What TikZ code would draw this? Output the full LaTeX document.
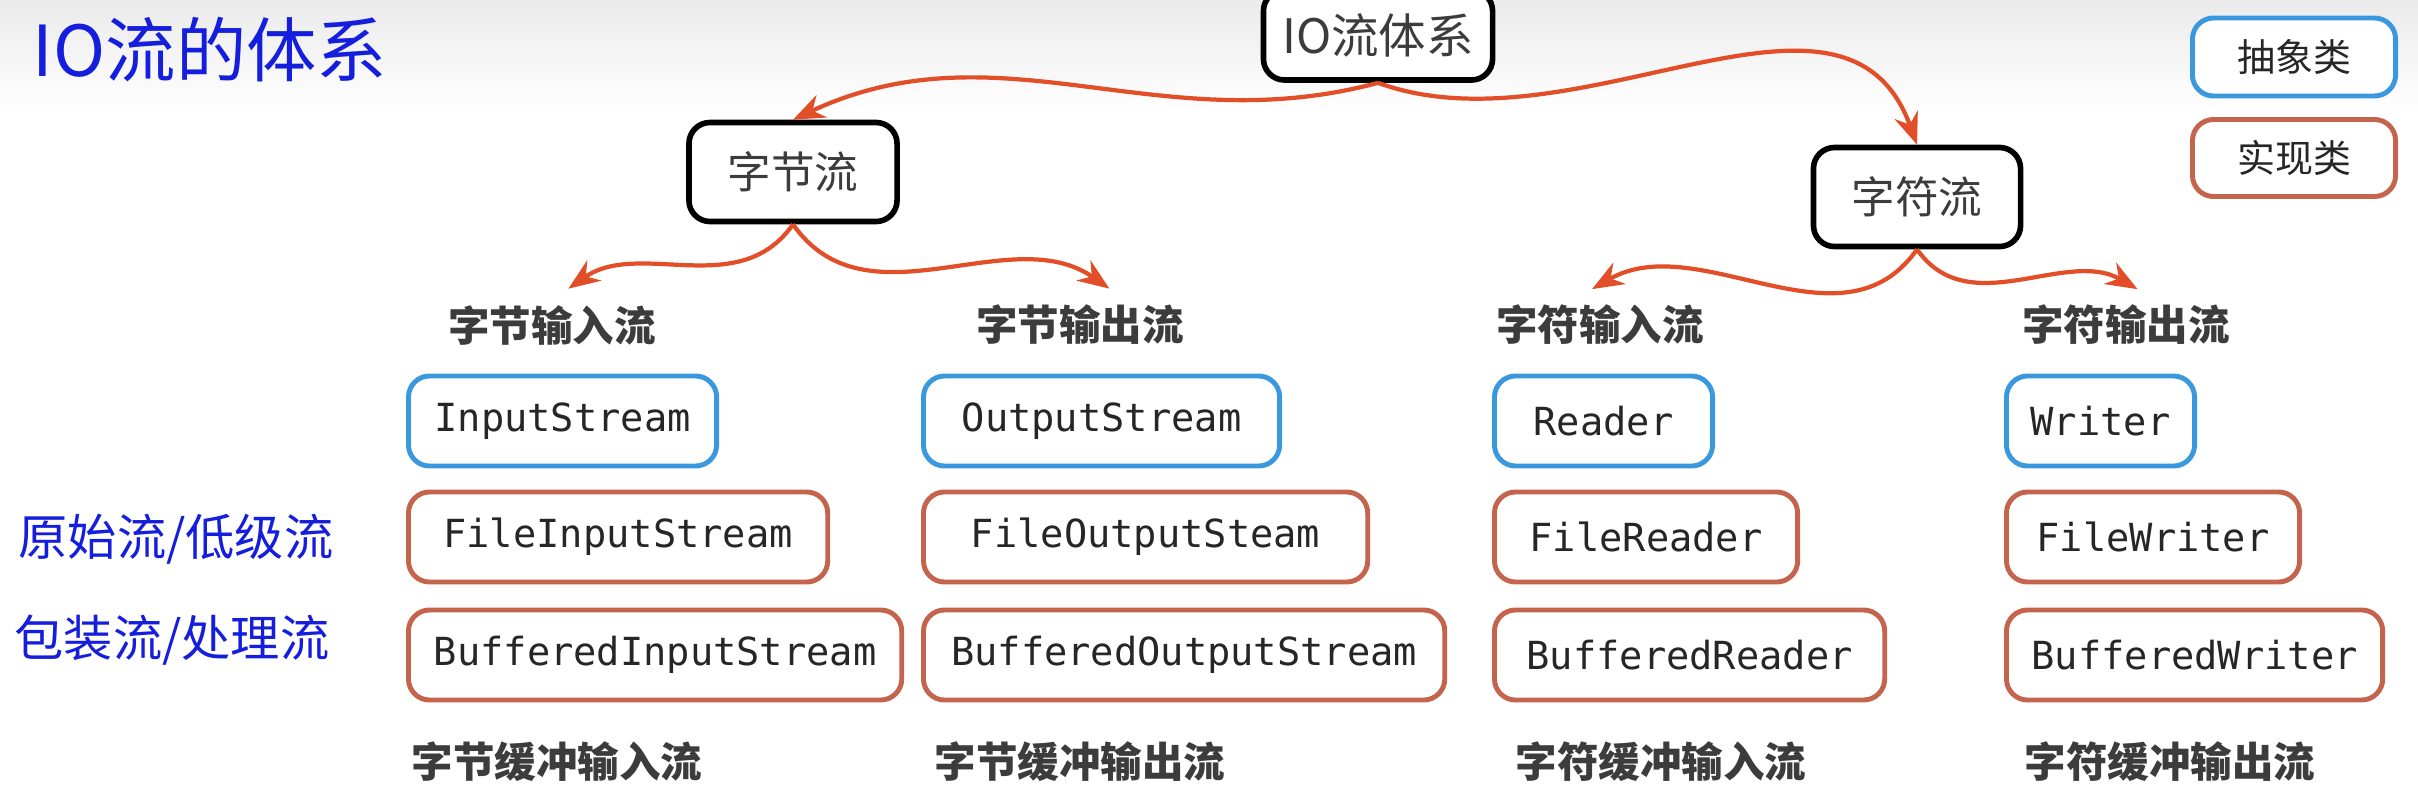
\documentclass[tikz,border=0pt]{standalone}
\usepackage{fontspec}
\setmainfont{Noto Sans CJK SC}
\setmonofont{DejaVu Sans Mono}
\usetikzlibrary{arrows.meta,positioning}
\definecolor{absblue}{RGB}{58,152,222}
\definecolor{implred}{RGB}{196,100,76}
\definecolor{arrred}{RGB}{226,78,40}
\definecolor{txtgray}{RGB}{60,60,60}
\definecolor{handblue}{RGB}{20,30,220}

\begin{document}
\begin{tikzpicture}[x=0.01cm,y=0.01cm,
    rootbox/.style={draw=black,line width=1.6pt,rounded corners=6pt,fill=white,
      font=\fontsize{12.4}{15}\selectfont,text=txtgray},
    absbox/.style={draw=absblue,line width=1.4pt,rounded corners=6pt,fill=white,
      minimum height=0.9cm,font=\ttfamily\fontsize{11}{13}\selectfont,text=black!85},
    implbox/.style={absbox,draw=implred},
    hdr/.style={font=\bfseries\fontsize{11.8}{14}\selectfont,text=txtgray},
    hand/.style={font=\fontsize{14}{17}\selectfont,text=handblue},
    arr/.style={-{Stealth[length=9pt,width=7pt]},draw=arrred,line width=1.2pt}]

    \useasboundingbox (0,0) rectangle (2418,802);
    \shade[top color=black!8,bottom color=white] (0,690) rectangle (2418,802);

    % titel en legenda
    \node[hand,font=\fontsize{20}{24}\selectfont] (title) at (210,752) {IO流的体系};
    \node[absbox,font=\fontsize{10.8}{13}\selectfont,minimum width=2.03cm,minimum height=0.78cm] (lgabs) at (2294,745) {抽象类};
    \node[implbox,font=\fontsize{10.8}{13}\selectfont,minimum width=2.03cm,minimum height=0.77cm] (lgimpl) at (2294,644) {实现类};

    % boom
    \node[rootbox,font=\fontsize{13.5}{16}\selectfont,minimum width=2.29cm,minimum height=0.9cm] (io) at (1378,767) {IO流体系};
    \node[rootbox,minimum width=2.08cm,minimum height=0.99cm] (zj) at (793,630) {字节流};
    \node[rootbox,minimum width=2.07cm,minimum height=0.99cm] (zf) at (1917,605) {字符流};

    \node[hdr] (h1) at (552,477) {字节输入流};
    \node[hdr] (h2) at (1080,477) {字节输出流};
    \node[hdr] (h3) at (1600,477) {字符输入流};
    \node[hdr] (h4) at (2126,477) {字符输出流};
    \coordinate (t1) at ([xshift=3]h1.north);
    \coordinate (t2) at ([xshift=10]h2.north);
    \coordinate (t3) at ([xshift=-4]h3.north);
    \coordinate (t4) at ([xshift=5]h4.north);

    \draw[arr] (io.south) to[out=195,in=25] (zj.north);
    \draw[arr] (io.south) to[out=-20,in=110] (zf.north);
    \draw[arr,shorten >=2pt] (zj.south) to[out=235,in=35] (t1);
    \draw[arr,shorten >=2pt] (zj.south) to[out=-55,in=145] (t2);
    \draw[arr,shorten >=2pt] (zf.south) to[out=235,in=30] (t3);
    \draw[arr,shorten >=2pt] (zf.south) to[out=-55,in=150] (t4);

    % abstracte klassen
    \node[absbox,anchor=west,minimum width=3.08cm] (is) at (406,381) {InputStream};
    \node[absbox,anchor=west,minimum width=3.56cm] (os) at (921,381) {OutputStream};
    \node[absbox,anchor=west,minimum width=2.18cm] (rd) at (1492,381) {Reader};
    \node[absbox,anchor=west,minimum width=1.88cm] (wr) at (2004,381) {Writer};

    % basisstromen
    \node[implbox,anchor=west,minimum width=4.19cm] (fis) at (406,265) {FileInputStream};
    \node[implbox,anchor=west,minimum width=4.44cm] (fos) at (921,265) {FileOutputSteam};
    \node[implbox,anchor=west,minimum width=3.03cm] (frd) at (1492,265) {FileReader};
    \node[implbox,anchor=west,minimum width=2.93cm] (fwr) at (2004,265) {FileWriter};

    % gebufferde stromen
    \node[implbox,anchor=west,minimum width=4.93cm] (bis) at (406,147) {BufferedInputStream};
    \node[implbox,anchor=west,minimum width=5.21cm] (bos) at (921,147) {BufferedOutputStream};
    \node[implbox,anchor=west,minimum width=3.90cm] (brd) at (1492,147) {BufferedReader};
    \node[implbox,anchor=west,minimum width=3.76cm] (bwr) at (2004,147) {BufferedWriter};

    \node[hdr] (b1) at (557,40) {字节缓冲输入流};
    \node[hdr] (b2) at (1080,40) {字节缓冲输出流};
    \node[hdr] (b3) at (1661,40) {字符缓冲输入流};
    \node[hdr] (b4) at (2170,40) {字符缓冲输出流};

    \node[hand] (low) at (176,263) {原始流/低级流};
    \node[hand] (wrap) at (172,162) {包装流/处理流};
\end{tikzpicture}
\end{document}
